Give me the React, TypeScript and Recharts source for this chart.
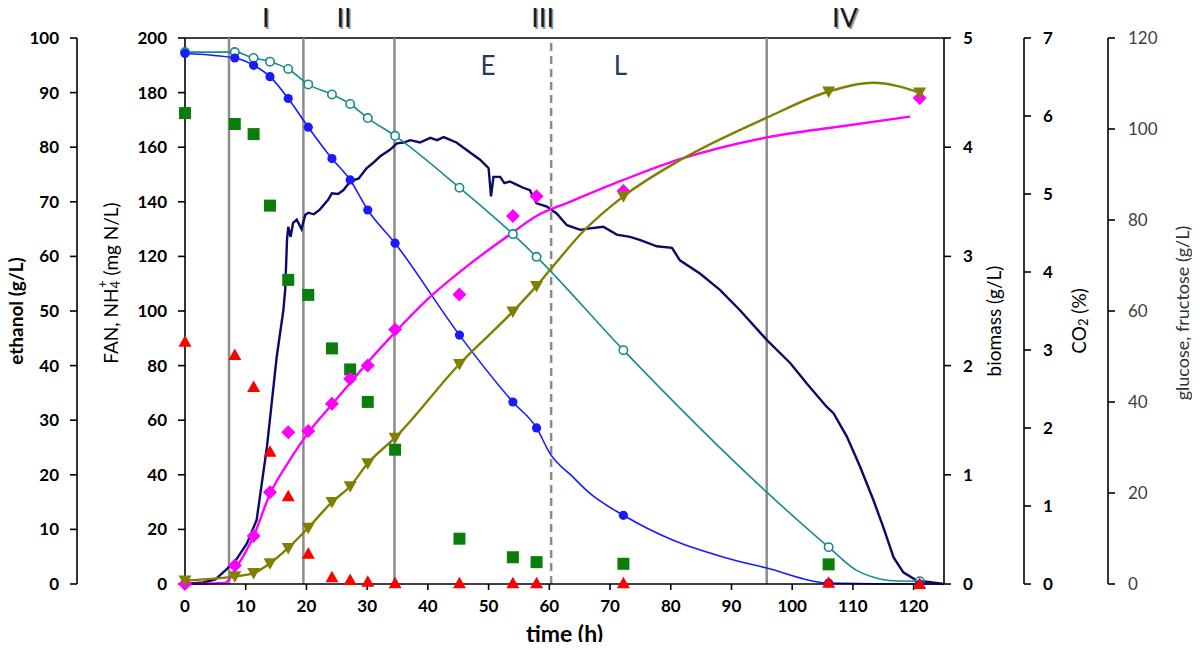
import { ComposedChart, Line, Scatter, XAxis, YAxis, ReferenceLine } from 'recharts'

// offline samples, time in h
const sampleTimes = [0, 8.2, 11.3, 14, 17, 20.3, 24.2, 27.2, 30.1, 34.6, 45.2, 54, 57.9, 72.2, 106, 121]
const glucose = [116.6, 115.6, 114, 111.5, 106.7, 100.4, 93.5, 88.8, 82.2, 74.9, 54.7, 40, 34.3, 15.1, 0.2, 0]
const fructose = [116.9, 116.9, 115.6, 114.8, 113.2, 109.8, 107.6, 105.5, 102.4, 98.5, 87.1, 76.9, 71.9, 51.4, 8.1, 0.6]
const fan = [172.5, 168.5, 164.8, 138.6, 111.4, 105.9, 86.3, 78.6, 66.7, 49.2, 16.6, 9.8, 8.0, 7.4, 7.2, null]
const nh4 = [88.7, 83.9, 72.2, 48.4, 32.1, 11.1, 2.5, 1.5, 0.8, 0.3, 0.3, 0.3, 0.3, 0.3, 0.5, 0]
const biomass = [0, 0.17, 0.44, 0.84, 1.39, 1.4, 1.65, 1.88, 2.0, 2.33, 2.65, 3.37, 3.55, 3.6, null, 4.45]
const ethanol = [0.65, 1.4, 2, 3.8, 6.6, 10.3, 15, 17.9, 22.1, 26.8, 40.3, 49.9, 54.6, 71, 90.2, 90]

// extra points
const glucoseCurveT = [60.1, 63.9, 66.7, 80.4, 88.7, 95.8, 125]
const glucoseCurve = [28.7, 23.5, 19.9, 9.6, 5.9, 3.5, 0]
const fructoseCurveT = [95.8, 110.6, 113.4, 116.7]
const fructoseCurve = [20.2, 3.0, 1.5, 0.7]
const ethanolCurveT = [60.1, 65.6, 81.5, 95.8, 113.4]
const ethanolCurve = [57.5, 64.6, 77.6, 85.4, 91.8]

// biomass model fit
const biomassFitT = [0, 6.6, 8.5, 11.2, 14, 17.2, 20.5, 24.3, 27.2, 30.1, 34.5, 39.8, 46.9, 53.5, 57.9, 63.4, 72.2, 81.5, 95.8, 107.9, 119.4]
const biomassFit = [0, 0.01, 0.155, 0.425, 0.825, 1.13, 1.4, 1.65, 1.84, 2.03, 2.3, 2.6, 2.93, 3.2, 3.37, 3.5, 3.7, 3.89, 4.09, 4.19, 4.28]

// online CO2 (%)
const co2T = [0, 3, 5, 6.6, 8.5, 10.2, 11.8, 13.5, 15.1, 16.2, 16.5, 16.8, 17, 17.4, 17.8, 18.4, 19.2, 19.8, 20.3, 21.2, 22.2, 23.6, 24.2, 25.2, 26.1, 27.2, 28.6, 29.9, 31, 32.1, 33.8, 34.9, 36, 37.1, 38.7, 40.4, 41.5, 42.6, 43.5, 44.7, 45.6, 47, 48.6, 50, 50.4, 50.8, 51.9, 52.6, 53.5, 54.6, 55.7, 56.8, 57.9, 59.6, 61.2, 62.9, 65.1, 66.7, 68.9, 71.1, 73.3, 75, 77.7, 80.2, 81.5, 84.8, 88.1, 91.4, 95.8, 99.7, 102.4, 105.7, 106.8, 109, 111.2, 113.4, 115, 116.7, 118.3, 120.5, 125]
const co2 = [0, 0.02, 0.06, 0.17, 0.32, 0.52, 0.82, 1.76, 2.91, 3.51, 3.77, 4.41, 4.58, 4.45, 4.63, 4.67, 4.55, 4.73, 4.76, 4.74, 4.8, 4.93, 5.01, 5.0, 5.05, 5.16, 5.2, 5.33, 5.4, 5.48, 5.57, 5.65, 5.66, 5.69, 5.66, 5.72, 5.69, 5.73, 5.7, 5.66, 5.61, 5.53, 5.44, 5.33, 4.97, 5.22, 5.22, 5.14, 5.16, 5.12, 5.08, 5.05, 4.88, 4.84, 4.75, 4.6, 4.54, 4.56, 4.58, 4.48, 4.45, 4.41, 4.33, 4.31, 4.15, 3.98, 3.77, 3.51, 3.13, 2.83, 2.57, 2.27, 2.19, 1.89, 1.5, 1.07, 0.73, 0.34, 0.15, 0.045, 0]

const xTicks = [0, 10, 20, 30, 40, 50, 60, 70, 80, 90, 100, 110, 120]
const fanTicks = [0, 20, 40, 60, 80, 100, 120, 140, 160, 180, 200]
const ethanolTicks = [0, 10, 20, 30, 40, 50, 60, 70, 80, 90, 100]
const biomassTicks = [0, 1, 2, 3, 4, 5]
const co2Ticks = [0, 1, 2, 3, 4, 5, 6, 7]
const sugarTicks = [0, 20, 40, 60, 80, 100, 120]

// phase boundaries and labels
const phaseLines = [7.25, 19.5, 34.5, 95.8]
const lagEndLine = 60.3
const phaseNames = ['I', 'II', 'III', 'IV']
const phaseNameAt = [13.3, 26.2, 58.9, 108.7]

type Pt = { t: number; v: number }

function points(times: number[], values: (number | null)[]): Pt[] {
  const out: Pt[] = []
  times.forEach((t, i) => {
    const v = values[i]
    if (v != null) out.push({ t, v })
  })
  return out
}

function withCurve(a: Pt[], b: Pt[]): Pt[] {
  return [...a, ...b].sort((p, q) => p.t - q.t)
}

const glucosePts = points(sampleTimes, glucose)
const fructosePts = points(sampleTimes, fructose)
const fanPts = points(sampleTimes, fan)
const nh4Pts = points(sampleTimes, nh4)
const biomassPts = points(sampleTimes, biomass)
const ethanolPts = points(sampleTimes, ethanol)
const glucoseLine = withCurve(glucosePts, points(glucoseCurveT, glucoseCurve))
const fructoseLine = withCurve(fructosePts, points(fructoseCurveT, fructoseCurve))
const ethanolLine = withCurve(ethanolPts, points(ethanolCurveT, ethanolCurve))
const biomassLine = points(biomassFitT, biomassFit)
const co2Line = points(co2T, co2)

const C = {
  glucose: '#1a1aff',
  fructose: '#168c8c',
  fan: '#0a7d0a',
  nh4: '#ff0000',
  biomass: '#ff00ff',
  ethanol: '#808000',
  co2: '#0a0a6a',
  phase: '#8c8c8c',
}

// axis ids sort in the order the axes sit outwards from the plot
const FAN = 'y1fan'
const ETH = 'y2eth'
const BIO = 'y3bio'
const CO2 = 'y4co2'
const SUGAR = 'y5sugar'

const axisStroke = { stroke: '#000', strokeWidth: 1.6 }
const boldTick = { fill: '#000', fontSize: 17, fontWeight: 700 }
const plainTick = { fill: '#404040', fontSize: 17, fontWeight: 400 }

const blueDot = (p: any) => <circle cx={p.cx} cy={p.cy} r={4.6} fill={C.glucose} />
const tealRing = (p: any) => (
  <circle cx={p.cx} cy={p.cy} r={4.2} fill="#fff" stroke={C.fructose} strokeWidth={1.6} />
)
const greenSquare = (p: any) => <rect x={p.cx - 6} y={p.cy - 6} width={12} height={12} fill={C.fan} />
const redTriangle = (p: any) => (
  <polygon points={`${p.cx},${p.cy - 6.5} ${p.cx + 6.5},${p.cy + 5} ${p.cx - 6.5},${p.cy + 5}`} fill={C.nh4} />
)
const pinkDiamond = (p: any) => (
  <polygon points={`${p.cx},${p.cy - 7} ${p.cx + 7},${p.cy} ${p.cx},${p.cy + 7} ${p.cx - 7},${p.cy}`} fill={C.biomass} />
)
const oliveTriangle = (p: any) => (
  <polygon points={`${p.cx - 6.5},${p.cy - 5} ${p.cx + 6.5},${p.cy - 5} ${p.cx},${p.cy + 6.5}`} fill={C.ethanol} />
)

// rotated axis title, dx measured from the left edge of the axis box
function vTitle(dx: number, dy: number, body: any, weight = 400, fill = '#000', size = 19) {
  return {
    content: ({ viewBox }: any) => {
      const x = viewBox.x + dx
      const y = viewBox.y + viewBox.height / 2 + dy
      return (
        <text
          x={x}
          y={y}
          transform={`rotate(-90 ${x} ${y})`}
          textAnchor="middle"
          dominantBaseline="central"
          fontSize={size}
          fontWeight={weight}
          fill={fill}
        >
          {body}
        </text>
      )
    },
  }
}

function phaseLabel(name: string) {
  return {
    content: ({ viewBox }: any) => {
      const x = viewBox.x
      const y = viewBox.y - 11
      return (
        <g fontSize={27} textAnchor="middle">
          <text x={x + 1.5} y={y + 1.5} fill="#9a9a9a">{name}</text>
          <text x={x} y={y} fill="#1a1a1a">{name}</text>
        </g>
      )
    },
  }
}

function regionLabel(name: string) {
  return {
    content: ({ viewBox }: any) => (
      <text x={viewBox.x} y={viewBox.y + 37} textAnchor="middle" fontSize={26} fill="#1f3a63">
        {name}
      </text>
    ),
  }
}

export default function App() {
  return (
    <div style={{ margin: -8, width: 1200, height: 650, background: '#fff', fontFamily: 'Lato, sans-serif' }}>
      <ComposedChart width={1200} height={650} margin={{ top: 38, right: 0, bottom: 0, left: 0 }}>
        <XAxis
          dataKey="t"
          type="number"
          domain={[0, 125]}
          ticks={xTicks}
          interval={0}
          height={66}
          tickSize={6}
          tickMargin={10}
          axisLine={axisStroke}
          tickLine={axisStroke}
          tick={boldTick}
          label={{
            content: ({ viewBox }: any) => (
              <text x={viewBox.x + viewBox.width / 2} y={viewBox.y + 58} textAnchor="middle" fontSize={23} fontWeight={700} fill="#000">
                time (h)
              </text>
            ),
          }}
        />
        <YAxis
          yAxisId={FAN}
          dataKey="v"
          orientation="left"
          width={108}
          domain={[0, 200]}
          ticks={fanTicks}
          interval={0}
          tickSize={7}
          tickMargin={11}
          axisLine={axisStroke}
          tickLine={axisStroke}
          tick={boldTick}
          label={vTitle(33, -28, (
            <>
              FAN, NH
              <tspan dy={5} fontSize={13}>4</tspan>
              <tspan dx={-7} dy={-13} fontSize={13}>+</tspan>
              <tspan dy={8}> (mg N/L)</tspan>
            </>
          ))}
        />
        <YAxis
          yAxisId={ETH}
          dataKey="v"
          orientation="left"
          width={77}
          domain={[0, 100]}
          ticks={ethanolTicks}
          interval={0}
          tickSize={7}
          tickMargin={11}
          axisLine={axisStroke}
          tickLine={axisStroke}
          tick={boldTick}
          label={vTitle(15, 0, 'ethanol (g/L)', 700)}
        />
        <YAxis
          yAxisId={BIO}
          dataKey="v"
          orientation="right"
          width={80}
          domain={[0, 5]}
          ticks={biomassTicks}
          interval={0}
          tickSize={7}
          tickMargin={12}
          axisLine={axisStroke}
          tickLine={axisStroke}
          tick={boldTick}
          label={vTitle(49, 10, 'biomass (g/L)')}
        />
        <YAxis
          yAxisId={CO2}
          dataKey="v"
          orientation="right"
          width={84}
          domain={[0, 7]}
          ticks={co2Ticks}
          interval={0}
          tickSize={7}
          tickMargin={12}
          axisLine={axisStroke}
          tickLine={axisStroke}
          tick={boldTick}
          label={vTitle(54, 10, (
            <>
              CO<tspan dy={5} fontSize={13}>2</tspan>
              <tspan dy={-5}> (%)</tspan>
            </>
          ))}
        />
        <YAxis
          yAxisId={SUGAR}
          dataKey="v"
          orientation="right"
          width={92}
          domain={[0, 120]}
          ticks={sugarTicks}
          interval={0}
          tickSize={7}
          tickMargin={13}
          axisLine={axisStroke}
          tickLine={axisStroke}
          tick={plainTick}
          label={vTitle(74, 2, 'glucose, fructose (g/L)', 400, '#333', 18)}
        />

        <ReferenceLine yAxisId={FAN} y={200} stroke="#000" strokeWidth={1.6} />
        {phaseLines.map((x) => (
          <ReferenceLine key={x} yAxisId={FAN} x={x} stroke={C.phase} strokeWidth={2.5} />
        ))}
        <ReferenceLine yAxisId={FAN} x={lagEndLine} stroke={C.phase} strokeWidth={2.5} strokeDasharray="8 5" />
        {phaseNames.map((n, i) => (
          <ReferenceLine key={n} yAxisId={FAN} x={phaseNameAt[i]} stroke="none" label={phaseLabel(n)} />
        ))}
        <ReferenceLine yAxisId={FAN} x={49.9} stroke="none" label={regionLabel('E')} />
        <ReferenceLine yAxisId={FAN} x={71.7} stroke="none" label={regionLabel('L')} />

        <Line yAxisId={CO2} data={co2Line} dataKey="v" type="linear" stroke={C.co2} strokeWidth={2.4} dot={false} isAnimationActive={false} />
        <Line yAxisId={SUGAR} data={fructoseLine} dataKey="v" type="monotone" stroke={C.fructose} strokeWidth={1.6} dot={false} isAnimationActive={false} />
        <Line yAxisId={SUGAR} data={glucoseLine} dataKey="v" type="monotone" stroke={C.glucose} strokeWidth={1.6} dot={false} isAnimationActive={false} />
        <Line yAxisId={BIO} data={biomassLine} dataKey="v" type="monotone" stroke={C.biomass} strokeWidth={2.4} dot={false} isAnimationActive={false} />
        <Line yAxisId={ETH} data={ethanolLine} dataKey="v" type="monotone" stroke={C.ethanol} strokeWidth={2.4} dot={false} isAnimationActive={false} />

        <Scatter yAxisId={SUGAR} data={fructosePts} dataKey="v" shape={tealRing} isAnimationActive={false} />
        <Scatter yAxisId={SUGAR} data={glucosePts} dataKey="v" shape={blueDot} isAnimationActive={false} />
        <Scatter yAxisId={FAN} data={fanPts} dataKey="v" shape={greenSquare} isAnimationActive={false} />
        <Scatter yAxisId={FAN} data={nh4Pts} dataKey="v" shape={redTriangle} isAnimationActive={false} />
        <Scatter yAxisId={BIO} data={biomassPts} dataKey="v" shape={pinkDiamond} isAnimationActive={false} />
        <Scatter yAxisId={ETH} data={ethanolPts} dataKey="v" shape={oliveTriangle} isAnimationActive={false} />
      </ComposedChart>
    </div>
  )
}
